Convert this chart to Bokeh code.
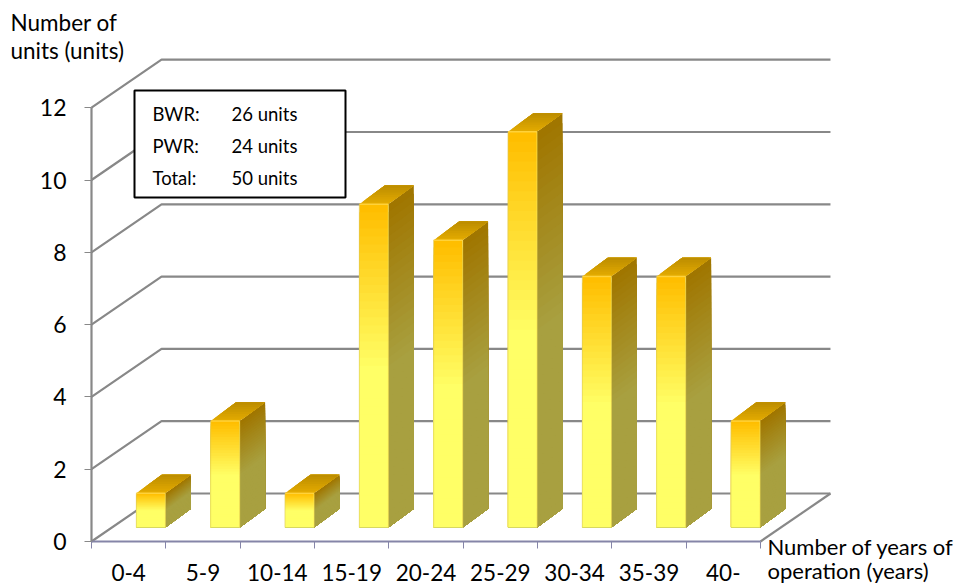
from bokeh.embed import file_html
from bokeh.models import FixedTicker, Label, LinearAxis, Range1d
from bokeh.plotting import figure
from bokeh.resources import INLINE

# Reactors by years of operation
categories = ["0-4", "5-9", "10-14", "15-19", "20-24", "25-29", "30-34", "35-39", "40-"]
units = [1, 3, 1, 9, 8, 11, 7, 7, 3]
y_ticks = [0, 2, 4, 6, 8, 10, 12]
summary_names = ["BWR:", "PWR:", "Total:"]
summary_counts = ["26 units", "24 units", "50 units"]

WIDTH, HEIGHT = 957, 586
PX_LEFT, PX_BOTTOM = 91, 541        # canvas position of the data origin
PX_CAT = 74.33                      # pixels per category
PX_UNIT = 36.15                     # pixels per unit
DEPTH_X = 70 / PX_CAT               # full depth of the 3D box, in data units
DEPTH_Y = 48 / PX_UNIT
BAR_LEFT, BAR_WIDTH = 0.33, 0.39
BAR_SHIFT = 20.3 / PX_CAT           # front face offset from the front plane
BAR_DX = 25.5 / PX_CAT              # depth of a bar
BAR_DY = 18.7 / PX_UNIT
GRAY = "#888888"
BLUE_GRAY = "#8585a8"
FONT = "Lato"


def data_x(px):
    return (px - PX_LEFT) / PX_CAT


def data_y(px):
    return (PX_BOTTOM - px) / PX_UNIT


def mix(c0, c1, t):
    return "#%02x%02x%02x" % tuple(round(a + (b - a) * t) for a, b in zip(c0, c1))


p = figure(
    width=WIDTH, height=HEIGHT, output_backend="svg", toolbar_location=None,
    x_range=Range1d(data_x(0), data_x(WIDTH)), y_range=Range1d(data_y(HEIGHT), data_y(0)),
    x_axis_type=None, y_axis_type=None,
    min_border=0,
)
p.grid.visible = False
p.outline_line_color = None

# back wall, side wall and floor
n_cat = len(categories)
for v in y_ticks:
    xs = [0, DEPTH_X, n_cat + DEPTH_X]
    ys = [v, v + DEPTH_Y, v + DEPTH_Y]
    p.line(xs, ys, line_color=GRAY, line_width=2.2)
p.line([DEPTH_X + n_cat, n_cat], [DEPTH_Y, 0], line_color=GRAY, line_width=2.2)

# gradient stops, top to bottom
front_top, front_low = (255, 190, 0), (255, 255, 102)
side_top, side_low = (160, 118, 0), (168, 160, 64)
roof_front, roof_back = (226, 170, 0), (190, 142, 0)
STRIPS = 40
FADE = 0.5

# bars take their height from a plane slightly below the visible foot
plane = data_y(529)
foot = data_y(527)

# each strip reaches the foot of the bar so that no seams show between strips
for i, v in enumerate(units):
    x0 = i + BAR_LEFT + BAR_SHIFT
    x1 = x0 + BAR_WIDTH
    top = plane + v
    for s in range(STRIPS):
        f = s / STRIPS
        y = top + (foot - top) * f
        t = min(f / FADE, 1)
        p.quad(left=x0, right=x1, bottom=foot, top=y,
               fill_color=mix(front_top, front_low, t), line_color=None)
        p.patch([x1, x1 + BAR_DX, x1 + BAR_DX, x1], [y, y + BAR_DY, foot + BAR_DY, foot],
                fill_color=mix(side_top, side_low, t), line_color=None)
    # roof, with its far corners slightly cut
    for s in range(8):
        f0, f1 = s / 8, 1.0
        inset = 0.03 if s == 7 else 0
        p.patch([x0 + BAR_DX * f0, x1 + BAR_DX * f0, x1 + BAR_DX * f1 - inset, x0 + BAR_DX * f1 + inset],
                [top + BAR_DY * f0, top + BAR_DY * f0, top + BAR_DY * f1, top + BAR_DY * f1],
                fill_color=mix(roof_front, roof_back, s / 7), line_color=None)
    # bevel highlights along the front face
    p.line([x0, x1], [top, top], line_color="#ffd23a", line_width=1.5)
    p.line([x1, x1], [top, foot], line_color="#ffe95a", line_alpha=0.7, line_width=1)
    p.line([x0, x0], [top, foot], line_color="#d9c860", line_alpha=0.6, line_width=1)
    p.line([x0, x1], [foot, foot], line_color="#d8d860", line_width=1)

# real axes along the front edges of the box
yaxis = LinearAxis(
    ticker=FixedTicker(ticks=y_ticks), bounds=(0, 12), fixed_location=0,
    axis_line_color=GRAY, axis_line_width=2.2,
    major_tick_line_color=GRAY, major_tick_line_width=1,
    major_tick_out=7, major_tick_in=0, minor_tick_line_color=None,
    major_label_standoff=18, major_label_text_font=FONT,
    major_label_text_font_size="23px", major_label_text_color="#000000",
)
p.add_layout(yaxis, "left")

centers = [i + 0.5 for i in range(n_cat)]
xaxis = LinearAxis(
    ticker=FixedTicker(ticks=centers, minor_ticks=list(range(n_cat + 1))),
    bounds=(0, n_cat), fixed_location=0,
    major_label_overrides={c: name for c, name in zip(centers, categories)},
    axis_line_color=BLUE_GRAY, axis_line_width=2,
    major_tick_out=0, major_tick_in=0, major_tick_line_color=None,
    minor_tick_out=7, minor_tick_in=0, minor_tick_line_color=BLUE_GRAY,
    major_label_standoff=15, major_label_text_font=FONT,
    major_label_text_font_size="22.5px", major_label_text_color="#000000",
)
p.add_layout(xaxis, "below")

# summary box
p.quad(left=data_x(134), right=data_x(345), top=data_y(90), bottom=data_y(197),
       fill_color="white", line_color="black", line_width=2, level="annotation")


def caption(text, px, py, size, align="left"):
    p.add_layout(Label(x=data_x(px), y=data_y(py), text=text, text_font=FONT,
                       text_font_size=size, text_color="#000000", text_align=align,
                       text_baseline="middle"))


for name, count, py in zip(summary_names, summary_counts, [113, 145, 177]):
    caption(name, 152, py, "18.5px")
    caption(count, 231, py, "18.5px")

caption("Number of", 10, 22, "22.5px")
caption("units (units)", 10, 50, "22.5px")
caption("Number of years of", 767, 546, "22px")
caption("operation (years)", 767, 570, "22px")

open("out.html", "w").write(file_html(p, INLINE))
